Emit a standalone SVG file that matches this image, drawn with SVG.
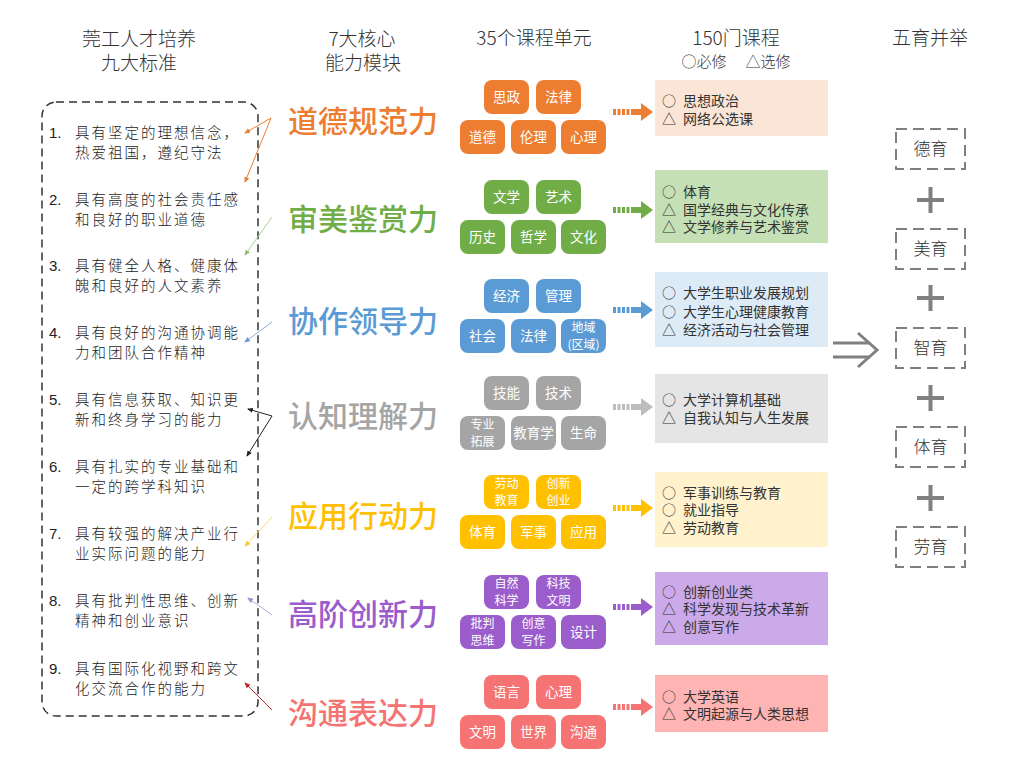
<svg xmlns="http://www.w3.org/2000/svg" xmlns:xlink="http://www.w3.org/1999/xlink" width="1024" height="768" viewBox="0 0 1024 768">
<style>
.hdr{font-family:"Noto Sans CJK SC","Liberation Serif",serif;font-size:19px;fill:#333;text-anchor:middle;font-weight:300}
.sub{font-family:"Noto Sans CJK SC",sans-serif;font-size:15px;fill:#333;text-anchor:middle;font-weight:300}
.std{font-family:"Noto Sans CJK SC",sans-serif;font-size:14.5px;fill:#222;letter-spacing:2px;font-weight:300}
.num{font-family:"Liberation Sans",sans-serif;font-size:15px;fill:#222}
.cap{font-family:"Noto Sans CJK SC",sans-serif;font-size:30px;font-weight:500}
.unit{font-family:"Noto Sans CJK SC",sans-serif;font-size:13.5px;fill:#fff;text-anchor:middle}
.unit2{font-family:"Noto Sans CJK SC",sans-serif;font-size:12px;fill:#fff;text-anchor:middle}
.crs{font-family:"Noto Sans CJK SC",sans-serif;font-size:14px;fill:#333}
.edu{font-family:"Noto Sans CJK SC",sans-serif;font-size:17px;fill:#333;text-anchor:middle;font-weight:300}
.edubox{fill:none;stroke:#7f7f7f;stroke-width:2;stroke-dasharray:11 6}
.plus{stroke:#808080;stroke-width:4}
.conn{fill:none;stroke-width:1}
</style>
<defs>
<g id="carrow">
<rect x="0" y="-3" width="3" height="6"/><rect x="4.5" y="-3" width="3" height="6"/><rect x="9" y="-3" width="3" height="6"/><rect x="13.5" y="-3" width="3" height="6"/>
<rect x="18" y="-3" width="11" height="6"/>
<polygon points="28,-9 40,0 28,9"/>
</g>
<marker id="mO" viewBox="0 0 6 6" refX="5" refY="3" markerWidth="6" markerHeight="6" orient="auto"><path d="M0,0.5 L6,3 L0,5.5Z" fill="#ED7D31"/></marker>
<marker id="mG" viewBox="0 0 6 6" refX="5" refY="3" markerWidth="6" markerHeight="6" orient="auto"><path d="M0,0.5 L6,3 L0,5.5Z" fill="#8DBF6A"/></marker>
<marker id="mB" viewBox="0 0 6 6" refX="5" refY="3" markerWidth="6" markerHeight="6" orient="auto"><path d="M0,0.5 L6,3 L0,5.5Z" fill="#6F93C9"/></marker>
<marker id="mK" viewBox="0 0 6 6" refX="5" refY="3" markerWidth="6" markerHeight="6" orient="auto"><path d="M0,0.5 L6,3 L0,5.5Z" fill="#222"/></marker>
<marker id="mY" viewBox="0 0 6 6" refX="5" refY="3" markerWidth="6" markerHeight="6" orient="auto"><path d="M0,0.5 L6,3 L0,5.5Z" fill="#F5C542"/></marker>
<marker id="mP" viewBox="0 0 6 6" refX="5" refY="3" markerWidth="6" markerHeight="6" orient="auto"><path d="M0,0.5 L6,3 L0,5.5Z" fill="#9C8FD0"/></marker>
<marker id="mR" viewBox="0 0 6 6" refX="5" refY="3" markerWidth="6" markerHeight="6" orient="auto"><path d="M0,0.5 L6,3 L0,5.5Z" fill="#C0262B"/></marker>
</defs>
<rect width="1024" height="768" fill="#fff"/>

<g id="headers">
<text class="hdr" x="139" y="46">莞工人才培养</text>
<text class="hdr" x="139" y="70">九大标准</text>
<text class="hdr" x="362" y="46">7大核心</text>
<text class="hdr" x="363" y="70">能力模块</text>
<text class="hdr" x="534" y="45">35个课程单元</text>
<text class="hdr" x="736" y="45">150门课程</text>
<text class="sub" x="704" y="67">○必修</text>
<text class="sub" x="768" y="67">△选修</text>
<text class="hdr" x="930" y="45">五育并举</text>
</g>

<g id="standards">
<rect x="42" y="102" width="216" height="614" rx="14" fill="none" stroke="#333" stroke-width="1.5" stroke-dasharray="8 5"/>
<g id="std1"><text class="num" x="49" y="138">1.</text><text class="std" x="75" y="138">具有坚定的理想信念，</text><text class="std" x="75" y="158">热爱祖国，遵纪守法</text></g>
<g id="std2"><text class="num" x="49" y="205">2.</text><text class="std" x="75" y="205">具有高度的社会责任感</text><text class="std" x="75" y="225">和良好的职业道德</text></g>
<g id="std3"><text class="num" x="49" y="271">3.</text><text class="std" x="75" y="271">具有健全人格、健康体</text><text class="std" x="75" y="291">魄和良好的人文素养</text></g>
<g id="std4"><text class="num" x="49" y="338">4.</text><text class="std" x="75" y="338">具有良好的沟通协调能</text><text class="std" x="75" y="358">力和团队合作精神</text></g>
<g id="std5"><text class="num" x="49" y="405">5.</text><text class="std" x="75" y="405">具有信息获取、知识更</text><text class="std" x="75" y="425">新和终身学习的能力</text></g>
<g id="std6"><text class="num" x="49" y="472">6.</text><text class="std" x="75" y="472">具有扎实的专业基础和</text><text class="std" x="75" y="492">一定的跨学科知识</text></g>
<g id="std7"><text class="num" x="49" y="539">7.</text><text class="std" x="75" y="539">具有较强的解决产业行</text><text class="std" x="75" y="559">业实际问题的能力</text></g>
<g id="std8"><text class="num" x="49" y="606">8.</text><text class="std" x="75" y="606">具有批判性思维、创新</text><text class="std" x="75" y="626">精神和创业意识</text></g>
<g id="std9"><text class="num" x="49" y="674">9.</text><text class="std" x="75" y="674">具有国际化视野和跨文</text><text class="std" x="75" y="694">化交流合作的能力</text></g>
</g>

<g id="connectors">
<path class="conn" stroke="#ED7D31" d="M271,118 L245,133" marker-end="url(#mO)"/>
<path class="conn" stroke="#ED7D31" d="M271,118 L245,182" marker-end="url(#mO)"/>
<path class="conn" stroke="#A9D18E" d="M272,217 L245,255" marker-end="url(#mG)"/>
<path class="conn" stroke="#8FAADC" d="M272,322 L245,342" marker-end="url(#mB)"/>
<path class="conn" stroke="#222" d="M272,416 L248,409" marker-end="url(#mK)"/>
<path class="conn" stroke="#222" d="M272,416 L247,456" marker-end="url(#mK)"/>
<path class="conn" stroke="#FFD966" d="M272,517 L245,546" marker-end="url(#mY)"/>
<path class="conn" stroke="#B4A7D6" d="M272,615 L248,598" marker-end="url(#mP)"/>
<path class="conn" stroke="#C0262B" d="M272,710 L245,683" marker-end="url(#mR)"/>
<use xlink:href="#carrow" x="613" y="112" fill="#ED7D31"/>
<use xlink:href="#carrow" x="613" y="210" fill="#70AD47"/>
<use xlink:href="#carrow" x="613" y="310" fill="#5B9BD5"/>
<use xlink:href="#carrow" x="613" y="407" fill="#BDBDBD"/>
<use xlink:href="#carrow" x="613" y="508" fill="#FFC000"/>
<use xlink:href="#carrow" x="613" y="607" fill="#9A5DCB"/>
<use xlink:href="#carrow" x="613" y="707" fill="#F57373"/>
<g id="implies" stroke="#808080" stroke-width="3" fill="none">
<path d="M833,343 H870 M833,357 H870"/>
<path d="M858,333 L877,350 L858,367"/>
</g>
</g>

<g id="capabilities">
<text class="cap" x="288" y="132" fill="#ED7D31">道德规范力</text>
<text class="cap" x="288" y="230" fill="#70AD47">审美鉴赏力</text>
<text class="cap" x="288" y="332" fill="#5B9BD5">协作领导力</text>
<text class="cap" x="288" y="427" fill="#A5A5A5">认知理解力</text>
<text class="cap" x="288" y="527" fill="#FFC000">应用行动力</text>
<text class="cap" x="288" y="625" fill="#9A5DCB">高阶创新力</text>
<text class="cap" x="288" y="724" fill="#F57373">沟通表达力</text>
</g>

<g id="units">
<g id="u1" fill="#ED7D31">
<rect x="484" y="80" width="45" height="34" rx="8"/><rect x="536" y="80" width="45" height="34" rx="8"/>
<rect x="460" y="120" width="45" height="34" rx="8"/><rect x="511" y="120" width="45" height="34" rx="8"/><rect x="561" y="120" width="45" height="34" rx="8"/>
<text class="unit" x="506.5" y="102">思政</text><text class="unit" x="558.5" y="102">法律</text>
<text class="unit" x="482.5" y="142">道德</text><text class="unit" x="533.5" y="142">伦理</text><text class="unit" x="583.5" y="142">心理</text>
</g>
<g id="u2" fill="#70AD47">
<rect x="484" y="180" width="45" height="34" rx="8"/><rect x="536" y="180" width="45" height="34" rx="8"/>
<rect x="460" y="220" width="45" height="34" rx="8"/><rect x="511" y="220" width="45" height="34" rx="8"/><rect x="561" y="220" width="45" height="34" rx="8"/>
<text class="unit" x="506.5" y="202">文学</text><text class="unit" x="558.5" y="202">艺术</text>
<text class="unit" x="482.5" y="242">历史</text><text class="unit" x="533.5" y="242">哲学</text><text class="unit" x="583.5" y="242">文化</text>
</g>
<g id="u3" fill="#5B9BD5">
<rect x="484" y="279" width="45" height="34" rx="8"/><rect x="536" y="279" width="45" height="34" rx="8"/>
<rect x="460" y="319" width="45" height="34" rx="8"/><rect x="511" y="319" width="45" height="34" rx="8"/><rect x="561" y="319" width="45" height="34" rx="8"/>
<text class="unit" x="506.5" y="301">经济</text><text class="unit" x="558.5" y="301">管理</text>
<text class="unit" x="482.5" y="341">社会</text><text class="unit" x="533.5" y="341">法律</text>
<text class="unit2" x="583.5" y="332">地域</text><text class="unit2" x="583.5" y="349">(区域)</text>
</g>
<g id="u4" fill="#A5A5A5">
<rect x="484" y="376" width="45" height="34" rx="8"/><rect x="536" y="376" width="45" height="34" rx="8"/>
<rect x="460" y="416" width="45" height="34" rx="8"/><rect x="511" y="416" width="45" height="34" rx="8"/><rect x="561" y="416" width="45" height="34" rx="8"/>
<text class="unit" x="506.5" y="398">技能</text><text class="unit" x="558.5" y="398">技术</text>
<text class="unit2" x="482.5" y="429">专业</text><text class="unit2" x="482.5" y="446">拓展</text>
<text class="unit" x="533.5" y="438">教育学</text><text class="unit" x="583.5" y="438">生命</text>
</g>
<g id="u5" fill="#FFC000">
<rect x="484" y="475" width="45" height="34" rx="8"/><rect x="536" y="475" width="45" height="34" rx="8"/>
<rect x="460" y="515" width="45" height="34" rx="8"/><rect x="511" y="515" width="45" height="34" rx="8"/><rect x="561" y="515" width="45" height="34" rx="8"/>
<text class="unit2" x="506.5" y="488">劳动</text><text class="unit2" x="506.5" y="505">教育</text>
<text class="unit2" x="558.5" y="488">创新</text><text class="unit2" x="558.5" y="505">创业</text>
<text class="unit" x="482.5" y="537">体育</text><text class="unit" x="533.5" y="537">军事</text><text class="unit" x="583.5" y="537">应用</text>
</g>
<g id="u6" fill="#9A5DCB">
<rect x="484" y="575" width="45" height="34" rx="8"/><rect x="536" y="575" width="45" height="34" rx="8"/>
<rect x="460" y="615" width="45" height="34" rx="8"/><rect x="511" y="615" width="45" height="34" rx="8"/><rect x="561" y="615" width="45" height="34" rx="8"/>
<text class="unit2" x="506.5" y="588">自然</text><text class="unit2" x="506.5" y="605">科学</text>
<text class="unit2" x="558.5" y="588">科技</text><text class="unit2" x="558.5" y="605">文明</text>
<text class="unit2" x="482.5" y="628">批判</text><text class="unit2" x="482.5" y="645">思维</text>
<text class="unit2" x="533.5" y="628">创意</text><text class="unit2" x="533.5" y="645">写作</text>
<text class="unit" x="583.5" y="637">设计</text>
</g>
<g id="u7" fill="#F57373">
<rect x="484" y="675" width="45" height="34" rx="8"/><rect x="536" y="675" width="45" height="34" rx="8"/>
<rect x="460" y="715" width="45" height="34" rx="8"/><rect x="511" y="715" width="45" height="34" rx="8"/><rect x="561" y="715" width="45" height="34" rx="8"/>
<text class="unit" x="506.5" y="697">语言</text><text class="unit" x="558.5" y="697">心理</text>
<text class="unit" x="482.5" y="737">文明</text><text class="unit" x="533.5" y="737">世界</text><text class="unit" x="583.5" y="737">沟通</text>
</g>
</g>

<g id="courses">
<g id="c1"><rect x="655" y="80" width="173" height="56" fill="#FBE5D6"/>
<text class="crs" x="662" y="106">○</text><text class="crs" x="683" y="106">思想政治</text>
<text class="crs" x="662" y="124">△</text><text class="crs" x="683" y="124">网络公选课</text></g>
<g id="c2"><rect x="655" y="170" width="173" height="73" fill="#C5E0B4"/>
<text class="crs" x="662" y="197">○</text><text class="crs" x="683" y="197">体育</text>
<text class="crs" x="662" y="215">△</text><text class="crs" x="683" y="215">国学经典与文化传承</text>
<text class="crs" x="662" y="232">△</text><text class="crs" x="683" y="232">文学修养与艺术鉴赏</text></g>
<g id="c3"><rect x="655" y="272" width="173" height="75" fill="#DDEBF7"/>
<text class="crs" x="662" y="298">○</text><text class="crs" x="683" y="298">大学生职业发展规划</text>
<text class="crs" x="662" y="317">○</text><text class="crs" x="683" y="317">大学生心理健康教育</text>
<text class="crs" x="662" y="335">△</text><text class="crs" x="683" y="335">经济活动与社会管理</text></g>
<g id="c4"><rect x="655" y="374" width="173" height="69" fill="#E5E5E5"/>
<text class="crs" x="662" y="405">○</text><text class="crs" x="683" y="405">大学计算机基础</text>
<text class="crs" x="662" y="423">△</text><text class="crs" x="683" y="423">自我认知与人生发展</text></g>
<g id="c5"><rect x="655" y="472" width="173" height="75" fill="#FFF2CC"/>
<text class="crs" x="662" y="498">○</text><text class="crs" x="683" y="498">军事训练与教育</text>
<text class="crs" x="662" y="515">○</text><text class="crs" x="683" y="515">就业指导</text>
<text class="crs" x="662" y="533">△</text><text class="crs" x="683" y="533">劳动教育</text></g>
<g id="c6"><rect x="655" y="572" width="173" height="73" fill="#CCA9E8"/>
<text class="crs" x="662" y="597">○</text><text class="crs" x="683" y="597">创新创业类</text>
<text class="crs" x="662" y="614">△</text><text class="crs" x="683" y="614">科学发现与技术革新</text>
<text class="crs" x="662" y="632">△</text><text class="crs" x="683" y="632">创意写作</text></g>
<g id="c7"><rect x="655" y="675" width="173" height="57" fill="#FFB4B4"/>
<text class="crs" x="662" y="702">○</text><text class="crs" x="683" y="702">大学英语</text>
<text class="crs" x="662" y="719">△</text><text class="crs" x="683" y="719">文明起源与人类思想</text></g>
</g>

<g id="five">
<g id="e1"><rect class="edubox" x="896" y="129" width="69" height="40"/><text class="edu" x="930.5" y="155">德育</text></g>
<path class="plus" d="M917,200 H944 M930.5,187 V213"/>
<g id="e2"><rect class="edubox" x="896" y="229" width="69" height="40"/><text class="edu" x="930.5" y="255">美育</text></g>
<path class="plus" d="M917,298 H944 M930.5,285 V311"/>
<g id="e3"><rect class="edubox" x="896" y="328" width="69" height="40"/><text class="edu" x="930.5" y="354">智育</text></g>
<path class="plus" d="M917,398 H944 M930.5,385 V411"/>
<g id="e4"><rect class="edubox" x="896" y="427" width="69" height="40"/><text class="edu" x="930.5" y="453">体育</text></g>
<path class="plus" d="M917,498 H944 M930.5,485 V511"/>
<g id="e5"><rect class="edubox" x="896" y="527" width="69" height="40"/><text class="edu" x="930.5" y="553">劳育</text></g>
</g>
</svg>
